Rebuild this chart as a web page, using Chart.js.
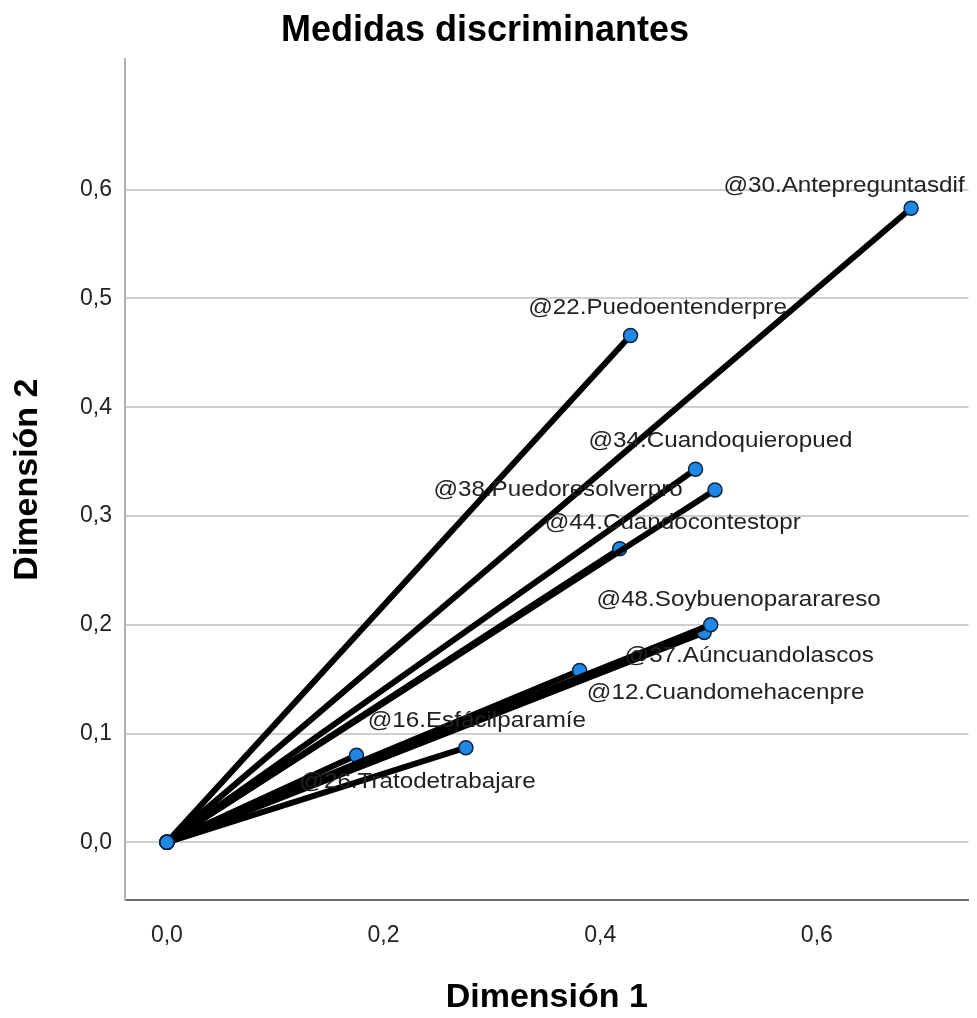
<!DOCTYPE html>
<html>
<head>
<meta charset="utf-8">
<title>Medidas discriminantes</title>
<script src="https://cdn.jsdelivr.net/npm/chart.js@4.4.1/dist/chart.umd.min.js"></script>
<style>
  body { margin: 0; background: #fff; }
</style>
</head>
<body>
<canvas id="myChart" width="977" height="1018"></canvas>
<script>
'use strict';

//********************* Global variables *************************/

let varNames = ['@30.Antepreguntasdif', '@22.Puedoentenderpre', '@34.Cuandoquieropued', '@38.Puedoresolverpro', '@44.Cuandocontestopr', '@48.Soybuenopararareso', '@37.Aúncuandolascos', '@12.Cuandomehacenpre', '@16.Esfácilparamíe', '@26.Tratodetrabajare'];
let dim1 = [0.687, 0.428, 0.488, 0.506, 0.418, 0.502, 0.496, 0.381, 0.276, 0.175];
let dim2 = [0.583, 0.466, 0.343, 0.324, 0.270, 0.200, 0.193, 0.158, 0.087, 0.080];

let xTicks = [0, 0.2, 0.4, 0.6];
let yTicks = [0, 0.1, 0.2, 0.3, 0.4, 0.5, 0.6];

// where each name sits relative to its point, in pixels (spss placement)
let labelOffsets = [[-67, -22], [27, -28], [25, -28], [-157, 0], [53, -26], [28, -25], [45, 24], [146, 22], [11, -27], [61, 27]];

let fontFamily = "'Liberation Sans', Arial, sans-serif";

//********************** DOM Refrence ****************************/
let ctx = document.getElementById('myChart').getContext('2d');

//*********************** Helper Function *********************** */

function commaTick(value){
  return value.toFixed(1).replace('.', ',');
}

function buildDatasets(){
  let sets = [];
  for(let i = 0; i < varNames.length; i++){
    sets.push({
      label: varNames[i],
      data: [{x: 0, y: 0}, {x: dim1[i], y: dim2[i]}],
      showLine: true,
      borderColor: '#000',
      borderWidth: 6,
      borderCapStyle: 'round',
      pointRadius: 7,
      pointBorderWidth: 1.5,
      pointBackgroundColor: '#1f88e5',
      pointBorderColor: '#0b2540'
    });
  }
  return sets;
}

// names next to the points, drawn a bit wider like the spss output
let pointLabels = {
  id: 'pointLabels',
  afterDatasetsDraw(chart){
    let c = chart.ctx;
    c.save();
    c.font = '22px ' + fontFamily;
    c.fillStyle = '#222';
    c.textAlign = 'center';
    c.textBaseline = 'middle';
    for(let i = 0; i < varNames.length; i++){
      let pt = chart.getDatasetMeta(i).data[1];
      c.save();
      c.translate(pt.x + labelOffsets[i][0], pt.y + labelOffsets[i][1]);
      c.scale(1.1, 1);
      c.fillText(varNames[i], 0, 0);
      c.restore();
    }
    c.restore();
  }
};

//***************************** Chart ************************** */

Chart.defaults.font.family = fontFamily;

let myChart = new Chart(ctx, {
  type: 'scatter',
  data: {
    datasets: buildDatasets()
  },
  options: {
    responsive: false,
    animation: false,
    layout: {
      padding: {left: 0, right: 7, top: 0, bottom: 0}
    },
    plugins: {
      legend: {display: false},
      tooltip: {enabled: false},
      title: {
        display: true,
        text: 'Medidas discriminantes',
        color: '#000',
        font: {size: 36, weight: 'bold'},
        padding: {top: 9, bottom: 7}
      }
    },
    scales: {
      x: {
        type: 'linear',
        min: -0.0387,
        max: 0.740,
        afterBuildTicks: (scale) => { scale.ticks = xTicks.map(v => ({value: v})); },
        afterFit: (scale) => { scale.height = 118; },
        grid: {display: false, drawTicks: false},
        border: {display: true, color: '#6e6e6e', width: 2},
        ticks: {
          color: '#222',
          font: {size: 23},
          padding: 22,
          callback: (v) => commaTick(v)
        },
        title: {
          display: true,
          text: 'Dimensión 1',
          color: '#000',
          font: {size: 34, weight: 'bold'},
          padding: {top: 0, bottom: 0}
        }
      },
      y: {
        type: 'linear',
        min: -0.053,
        max: 0.72,
        afterBuildTicks: (scale) => { scale.ticks = yTicks.map(v => ({value: v})); },
        afterFit: (scale) => { scale.width = 125; },
        grid: {color: '#cfcfcf', lineWidth: 2, drawTicks: false},
        border: {display: true, color: '#b0b0b0', width: 2},
        ticks: {
          color: '#222',
          font: {size: 23},
          padding: 13,
          callback: (v) => commaTick(v)
        },
        title: {
          display: true,
          text: 'Dimensión 2',
          color: '#000',
          font: {size: 34, weight: 'bold'},
          padding: {top: 7, bottom: 0}
        }
      }
    }
  },
  plugins: [pointLabels]
});
</script>
</body>
</html>
